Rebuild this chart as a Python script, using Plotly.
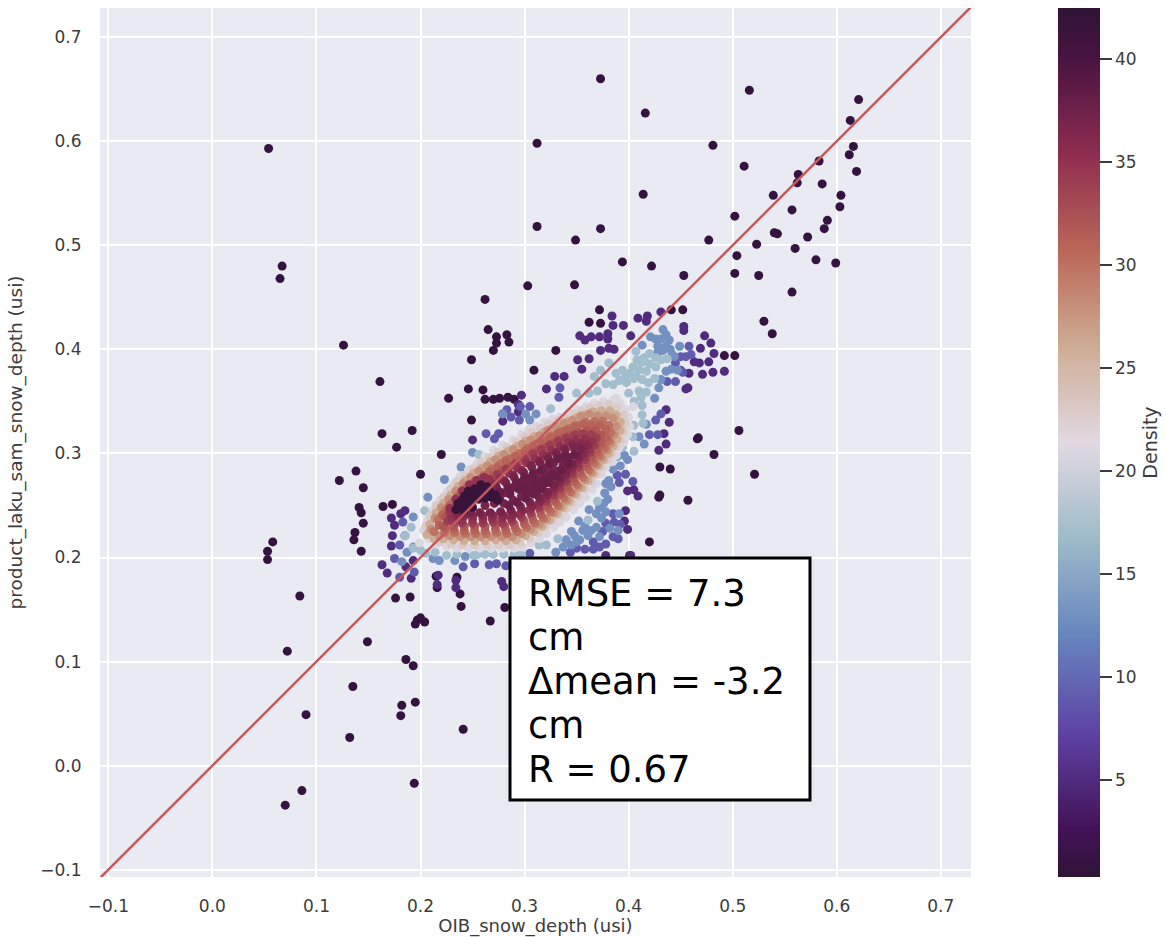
import plotly.graph_objects as go

# (OIB_snow_depth, product_laku_sam_snow_depth), grouped by density
d1 = [(.054,.593),(.067,.480),(.065,.468),(.126,.404),(.161,.369),(.163,.319),(.192,.322),(.177,.306),(.122,.274),(.138,.283),
(.145,.267),(.141,.248),(.143,.243),(.145,.233),(.137,.224),(.136,.217),(.143,.206),(.058,.215),(.053,.206),(.053,.198),
(.084,.163),(.072,.110),(.149,.119),(.135,.076),(.090,.049),(.132,.027),(.086,-.024),(.070,-.038),(.194,-.017),(.241,.035),
(.195,.061),(.182,.058),(.181,.048),(.186,.102),(.193,.096),(.197,.140),(.195,.136),(.200,.142),(.204,.138),(.238,.165),
(.239,.153),(.267,.139),(.281,.152),(.176,.161),(.190,.162),(.215,.182),(.235,.181),(.216,.171),(.373,.660),(.416,.627),
(.516,.649),(.481,.596),(.511,.576),(.312,.598),(.312,.518),(.414,.549),(.373,.516),(.349,.505),(.394,.484),(.422,.480),
(.453,.471),(.477,.505),(.502,.528),(.504,.490),(.502,.473),(.525,.471),(.303,.461),(.348,.462),(.262,.448),(.621,.640),
(.613,.620),(.616,.595),(.612,.587),(.619,.571),(.583,.581),(.586,.559),(.563,.568),(.562,.560),(.539,.548),(.557,.534),
(.604,.548),(.603,.537),(.591,.524),(.588,.516),(.572,.508),(.560,.497),(.580,.486),(.599,.483),(.540,.512),(.543,.511),
(.523,.501),(.557,.455),(.530,.427),(.538,.415),(.506,.322),(.521,.280),(.482,.299),(.467,.315),(.430,.287),(.457,.255),
(.430,.260),(.420,.215),(.401,.202),(.372,.438),(.362,.426),(.373,.425),(.441,.438),(.452,.438),(.492,.394),(.502,.394),
(.466,.314),(.440,.285),(.429,.258),(.227,.353),(.246,.362),(.249,.390),(.265,.419),(.273,.412),(.283,.414),(.285,.407),
(.273,.406),(.270,.399),(.330,.399),(.309,.380),(.249,.332),(.220,.299),(.200,.280),(.164,.249),(.173,.251),(.260,.361),
(.262,.352),(.270,.352),(.276,.353),(.284,.354),(.290,.352)]
d5 = [(.384,.432),(.395,.423),(.385,.423),(.353,.413),(.358,.409),(.364,.412),(.372,.412),(.380,.415),(.380,.410),(.373,.399),
(.381,.401),(.386,.400),(.351,.390),(.362,.391),(.355,.381),(.409,.430),(.418,.432),(.417,.427),(.431,.436),(.453,.422),
(.453,.418),(.473,.413),(.479,.406),(.482,.396),(.492,.379),(.481,.378),(.471,.376),(.477,.388),(.469,.401),(.468,.387),
(.463,.388),(.458,.377),(.457,.363),(.455,.362),(.402,.413),(.297,.356),(.294,.347),(.294,.340),(.279,.338),(.279,.331),
(.321,.362),(.329,.374),(.338,.374),(.250,.313),(.436,.342),(.439,.330),(.434,.319),(.436,.309),(.429,.303),(.409,.259),
(.405,.265),(.399,.264),(.397,.245),(.399,.227),(.396,.235),(.378,.202),(.402,.202),(.185,.245),(.181,.242),(.172,.238),
(.175,.231),(.173,.221),(.172,.211),(.163,.193),(.168,.185),(.191,.180),(.217,.183),(.216,.174),(.234,.178),(.234,.171),
(.278,.177),(.280,.172),(.193,.197),(.186,.191)]
d9 = [(.287,.335),(.295,.332),(.334,.363),(.333,.354),(.263,.319),(.275,.319),(.271,.314),(.431,.338),(.426,.332),(.428,.318),
(.420,.318),(.389,.279),(.397,.280),(.404,.273),(.391,.272),(.385,.242),(.386,.234),(.378,.233),(.385,.220),(.378,.213),
(.372,.210),(.366,.215),(.375,.225),(.180,.212),(.183,.234),(.185,.221),(.175,.199),(.180,.181),(.194,.186),(.241,.191),
(.252,.194),(.266,.193),(.273,.194),(.282,.192),(.305,.204),(.450,.380),(.445,.387),(.458,.403),(.445,.369),(.437,.369),
(.392,.232),(.390,.218),(.366,.208),(.358,.208),(.350,.209),(.344,.205),(.296,.345),(.283,.342),(.305,.345),(.455,.393),
(.450,.393),(.460,.395),(.452,.378)]
d13 = [(.433,.399),(.439,.409),(.433,.419),(.421,.412),(.413,.404),(.449,.403),(.442,.395),(.436,.403),(.428,.403),(.417,.328),
(.410,.316),(.415,.309),(.399,.294),(.396,.298),(.389,.297),(.381,.274),(.378,.271),(.377,.262),(.380,.256),(.391,.242),
(.378,.244),(.369,.242),(.361,.221),(.356,.226),(.353,.217),(.348,.221),(.369,.229),(.345,.212),(.337,.210),(.330,.205),
(.279,.338),(.301,.338),(.305,.332),(.311,.338),(.193,.239),(.187,.205),(.182,.196),(.193,.210),(.212,.199),(.218,.197),
(.233,.197),(.243,.201),(.207,.258),(.223,.275),(.250,.301),(.239,.287),(.431,.371),(.436,.379),(.429,.363),(.425,.353),
(.440,.400),(.444,.393),(.447,.380),(.441,.381),(.431,.410),(.426,.410),(.436,.414),(.428,.397),(.392,.288),(.385,.285),
(.383,.268),(.372,.248),(.362,.246),(.374,.238),(.358,.230),(.350,.215),(.340,.217),(.364,.226),(.382,.228),(.372,.220),
(.390,.226),(.376,.252),(.352,.235),(.345,.225)]
d17 = [(.407,.398),(.420,.396),(.412,.387),(.404,.383),(.394,.380),(.388,.377),(.397,.374),(.407,.374),(.417,.379),(.426,.383),
(.413,.371),(.405,.372),(.417,.359),(.413,.346),(.413,.337),(.385,.366),(.378,.367),(.370,.360),(.362,.358),(.350,.358),
(.367,.374),(.373,.380),(.381,.387),(.405,.327),(.404,.316),(.394,.306),(.405,.302),(.361,.236),(.332,.218),(.321,.212),
(.314,.212),(.225,.202),(.251,.202),(.191,.229),(.193,.209),(.204,.245),(.256,.299),(.325,.343),(.185,.221),(.370,.254),
(.401,.377),(.410,.380),(.415,.392),(.426,.392),(.431,.390),(.437,.391),(.420,.386),(.408,.390),(.398,.368),(.391,.370),
(.400,.358),(.405,.350),(.410,.360),(.419,.368),(.425,.372),(.412,.354),(.414,.329),(.255,.203),(.262,.203),(.270,.203),
(.280,.203),(.290,.203),(.297,.203),(.200,.207),(.205,.204),(.235,.203),(.214,.205)]
d21 = [(.203,.226),(.207,.236),(.212,.245),(.219,.255),(.226,.263),(.232,.271),(.238,.278),(.246,.284),(.254,.290),(.262,.297),
(.270,.303),(.279,.308),(.289,.313),(.297,.318),(.304,.323),(.311,.326),(.319,.330),(.327,.333),(.334,.335),(.342,.339),
(.351,.342),(.359,.345),(.367,.348),(.376,.350),(.385,.351),(.392,.348),(.397,.342),(.400,.335),(.401,.326),(.399,.318),
(.396,.311),(.391,.306),(.388,.298),(.384,.292),(.378,.287),(.374,.280),(.369,.271),(.365,.265),(.359,.258),(.353,.252),
(.347,.246),(.340,.239),(.334,.234),(.328,.229),(.321,.223),(.314,.218),(.306,.214),(.298,.210),(.290,.209),(.279,.209),
(.268,.209),(.257,.209),(.246,.209),(.235,.209),(.225,.211),(.215,.213),(.208,.218),(.388,.353),(.404,.345),(.199,.214)]
d23 = [(.205,.230),(.209,.240),(.215,.250),(.222,.258),(.229,.266),(.235,.273),(.242,.279),(.250,.285),(.258,.291),(.266,.296),
(.274,.301),(.283,.306),(.292,.311),(.300,.316),(.307,.320),(.315,.324),(.323,.328),(.331,.331),(.339,.334),(.347,.338),
(.355,.341),(.363,.344),(.372,.346),(.381,.347),(.389,.344),(.395,.337),(.397,.329),(.395,.321),(.392,.313),(.388,.307),
(.384,.300),(.380,.294),(.374,.287),(.369,.280),(.364,.273),(.358,.266),(.352,.259),(.346,.253),(.340,.247),(.334,.241),
(.327,.236),(.320,.230),(.313,.224),(.305,.219),(.296,.214),(.286,.212),(.275,.212),(.264,.212),(.252,.212),(.240,.212),
(.229,.213),(.219,.215),(.210,.221)]
d26 = [(.206,.222),(.209,.232),(.215,.243),(.222,.252),(.229,.260),(.236,.268),(.243,.274),(.251,.281),(.259,.286),(.267,.292),
(.275,.297),(.284,.302),(.293,.307),(.301,.312),(.309,.316),(.318,.320),(.326,.324),(.334,.328),(.342,.331),(.350,.334),
(.358,.337),(.366,.340),(.374,.341),(.382,.341),(.388,.337),(.392,.330),(.392,.322),(.389,.314),(.385,.307),(.381,.300),
(.376,.294),(.371,.288),(.366,.281),(.361,.274),(.355,.267),(.349,.261),(.343,.254),(.337,.248),(.331,.242),(.324,.236),
(.317,.230),(.309,.225),(.301,.221),(.292,.217),(.282,.216),(.272,.217),(.262,.216),(.252,.216),(.242,.216),(.232,.217),
(.222,.218),(.213,.218)]
d28 = [(.210,.227),(.214,.238),(.220,.248),(.227,.256),(.234,.264),(.241,.271),(.248,.277),(.256,.283),(.264,.288),(.272,.294),
(.280,.299),(.289,.304),(.298,.309),(.306,.313),(.314,.317),(.322,.322),(.330,.326),(.338,.329),(.346,.332),(.354,.336),
(.362,.338),(.370,.336),(.378,.336),(.385,.334),(.388,.326),(.386,.318),(.383,.310),(.379,.303),(.374,.296),(.369,.289),
(.364,.282),(.358,.275),(.352,.268),(.346,.262),(.340,.255),(.334,.249),(.328,.243),(.321,.237),(.314,.232),(.306,.227),
(.297,.223),(.288,.220),(.278,.220),(.268,.220),(.258,.220),(.248,.220),(.238,.220),(.228,.221),(.218,.221)]
d30 = [(.213,.225),(.217,.236),(.224,.245),(.231,.253),(.238,.261),(.245,.268),(.253,.274),(.261,.279),(.269,.285),(.277,.290),
(.286,.295),(.295,.300),(.303,.305),(.311,.309),(.319,.313),(.327,.317),(.335,.321),(.343,.324),(.351,.327),(.359,.330),
(.367,.331),(.375,.331),(.381,.327),(.383,.320),(.381,.312),(.377,.305),(.372,.298),(.367,.291),(.362,.284),(.356,.277),
(.350,.270),(.344,.263),(.338,.257),(.332,.250),(.325,.244),(.318,.238),(.310,.233),(.302,.229),(.293,.225),(.283,.223),
(.273,.224),(.263,.223),(.253,.223),(.243,.223),(.233,.224),(.223,.224)]
d31 = [(.218,.231),(.221,.241),(.228,.250),(.235,.258),(.242,.265),(.250,.271),(.258,.276),(.266,.282),(.274,.287),(.282,.293),
(.291,.297),(.300,.302),(.308,.307),(.316,.311),(.324,.315),(.332,.319),(.340,.322),(.348,.326),(.356,.328),(.364,.327),
(.372,.327),(.378,.323),(.378,.315),(.375,.308),(.370,.301),(.365,.294),(.360,.287),(.354,.280),(.348,.273),(.342,.266),
(.336,.260),(.330,.253),(.323,.247),(.316,.241),(.308,.236),(.300,.232),(.291,.228),(.282,.226),(.272,.227),(.262,.226),
(.252,.226),(.242,.226),(.232,.227),(.224,.228)]
d32 = [(.222,.230),(.224,.239),(.231,.247),(.238,.255),(.246,.262),(.254,.267),(.262,.272),(.270,.278),(.278,.283),(.287,.288),
(.296,.293),(.304,.298),(.312,.302),(.320,.306),(.328,.310),(.336,.314),(.344,.317),(.352,.320),(.360,.322),(.368,.322),
(.373,.318),(.373,.311),(.369,.304),(.364,.297),(.359,.290),(.353,.283),(.347,.276),(.341,.269),(.335,.262),(.329,.256),
(.322,.250),(.315,.245),(.307,.240),(.299,.236),(.290,.232),(.281,.230),(.272,.231),(.262,.230),(.252,.230),(.242,.230),
(.232,.230)]
d34 = [(.226,.235),(.228,.243),(.235,.251),(.242,.259),(.250,.265),(.258,.270),(.266,.275),(.274,.280),(.282,.285),(.291,.290),
(.300,.295),(.308,.300),(.316,.304),(.324,.308),(.332,.312),(.340,.315),(.348,.318),(.356,.319),(.364,.318),(.369,.315),
(.367,.308),(.363,.301),(.358,.294),(.352,.287),(.346,.280),(.340,.273),(.334,.266),(.328,.260),(.321,.254),(.314,.248),
(.306,.243),(.297,.239),(.288,.235),(.279,.233),(.270,.234),(.260,.233),(.250,.233),(.240,.233),(.232,.234)]
d35 = [(.230,.238),(.236,.247),(.243,.256),(.251,.263),(.259,.268),(.268,.272),(.276,.276),(.285,.281),(.293,.286),(.302,.291),
(.310,.295),(.318,.299),(.326,.303),(.334,.307),(.342,.311),(.350,.313),(.358,.314),(.364,.311),(.362,.304),(.357,.297),
(.351,.290),(.345,.283),(.339,.276),(.333,.269),(.327,.263),(.320,.257),(.313,.251),(.305,.246),(.296,.242),(.287,.238),
(.278,.237),(.269,.237),(.260,.237),(.250,.237),(.240,.236),(.228,.247),(.234,.256),(.240,.264),(.247,.270),(.254,.274),
(.261,.277),(.266,.275)]
d36 = [(.235,.240),(.240,.250),(.247,.257),(.255,.262),(.264,.266),(.272,.270),(.280,.274),(.289,.279),(.297,.284),(.306,.289),
(.314,.293),(.322,.297),(.330,.301),(.338,.305),(.346,.309),(.354,.309),(.360,.308),(.357,.301),(.352,.294),(.346,.287),
(.340,.280),(.334,.273),(.328,.266),(.322,.260),(.315,.254),(.307,.249),(.298,.245),(.289,.241),(.280,.240),(.270,.240),
(.260,.240),(.250,.240),(.242,.240)]
d37 = [(.240,.243),(.248,.250),(.256,.256),(.264,.262),(.273,.267),(.282,.272),(.290,.277),(.299,.282),(.307,.287),(.315,.291),
(.323,.295),(.331,.299),(.339,.303),(.347,.306),(.354,.305),(.352,.297),(.346,.290),(.340,.283),(.334,.276),(.328,.270),
(.321,.263),(.314,.258),(.305,.253),(.296,.249),(.287,.245),(.277,.244),(.267,.243),(.257,.243),(.248,.243),(.262,.250),
(.271,.252),(.280,.252),(.289,.255),(.297,.259),(.305,.262),(.312,.266),(.319,.271),(.325,.277),(.331,.283),(.337,.289),
(.343,.296),(.336,.296),(.328,.291),(.320,.286),(.312,.281),(.304,.276),(.296,.272),(.288,.267),(.280,.262),(.271,.259),
(.296,.265),(.304,.269),(.312,.274),(.320,.279),(.328,.284)]
d38 = [(.285,.250),(.293,.253),(.301,.257),(.309,.261),(.316,.266),(.323,.272),(.330,.278),(.335,.284),(.342,.290),(.348,.299),
(.340,.297),(.332,.295),(.324,.290),(.316,.284),(.308,.280),(.300,.277),(.292,.272),(.284,.267),(.276,.263),(.268,.262),
(.276,.256),(.286,.261),(.294,.266),(.302,.263),(.310,.268),(.318,.275),(.326,.280),(.300,.270),(.308,.274),(.316,.270)]
d41 = [(.234,.246),(.240,.253),(.246,.260),(.252,.266),(.258,.270),(.262,.263),(.256,.257),(.268,.258),(.250,.248),(.242,.245),
(.274,.255),(.262,.257),(.238,.249),(.243,.254),(.248,.258),(.252,.261),(.244,.250),(.249,.253),(.254,.257),(.258,.261),
(.240,.255),(.246,.264),(.236,.252),(.242,.259),(.250,.263),(.258,.265),(.264,.268),(.266,.264),(.272,.260)]
bands = [d1, d5, d9, d13, d17, d21, d23, d26, d28, d30, d31, d32, d34, d35, d36, d37, d38, d41]
band_density = [1, 5, 9, 13, 17, 21, 23, 26, 28, 30, 31, 32, 34, 35, 36, 37, 38, 41.5]
line_x = [-0.11, 0.73]
line_y = [-0.11, 0.73]
ticks = [-0.1, 0.0, 0.1, 0.2, 0.3, 0.4, 0.5, 0.6, 0.7]
stats_lines = ["RMSE = 7.3", "cm", "\u0394mean = -3.2", "cm", "R = 0.67"]

twilight_shifted = [[0, "#2f1436"], [.0556, "#421257"], [.1667, "#5e43a5"], [.2778, "#6785be"], [.3889, "#9ebbc9"],
                    [.5, "#e2d9e2"], [.6111, "#ceac94"], [.7222, "#ba6657"], [.8333, "#8e2c50"], [.9444, "#471340"], [1, "#2f1436"]]

xs, ys, cs = [], [], []
for band, dens in zip(bands, band_density):
    for a, b in band:
        xs.append(a); ys.append(b); cs.append(dens)

FONT = "DejaVu Sans"
INK = "#3c3c3c"
fig = go.Figure()
fig.add_trace(go.Scatter(x=xs, y=ys, mode="markers", hoverinfo="skip", showlegend=False,
    marker=dict(size=9, color=cs, colorscale=twilight_shifted, cmin=0.29, cmax=42.5, line=dict(width=0),
        colorbar=dict(x=(1058-100)/871, xanchor="left", y=0, yanchor="bottom", len=1, lenmode="fraction",
            thickness=42, ypad=0, xpad=0, outlinewidth=0, tickmode="array", tickvals=[5,10,15,20,25,30,35,40],
            ticks="outside", ticklen=12, tickwidth=1.5, tickcolor=INK, tickfont=dict(family=FONT, size=17, color=INK),
            title=dict(text="Density", side="right", font=dict(family=FONT, size=19, color=INK))))))
fig.add_trace(go.Scatter(x=line_x, y=line_y, mode="lines", line=dict(color="#c05a60", width=2.5),
                         hoverinfo="skip", showlegend=False))
axis = dict(tickmode="array", tickvals=ticks, ticktext=[f"{t:.1f}".replace("-", "\u2212") for t in ticks],
            showgrid=True, gridcolor="white", gridwidth=1.5, zeroline=False, showline=False, automargin=False,
            ticks="outside", ticklen=14, tickcolor="rgba(0,0,0,0)",
            tickfont=dict(family=FONT, size=17, color=INK))
fig.update_layout(width=1166, height=937, margin=dict(l=100, r=195, t=8, b=60, autoexpand=False), autosize=False,
    plot_bgcolor="#eaeaf2", paper_bgcolor="white", font=dict(family=FONT),
    xaxis=dict(axis, range=[-0.108, 0.729], title=dict(text="OIB_snow_depth (usi)", standoff=8, font=dict(family=FONT, size=18, color=INK))),
    yaxis=dict(axis, range=[-0.107, 0.728], title=dict(text="product_laku_sam_snow_depth (usi)", standoff=12, font=dict(family=FONT, size=18.5, color=INK))),
    shapes=[dict(type="rect", xref="paper", yref="paper", x0=(510-100)/871, x1=(810-100)/871,
                 y0=(877-800)/869, y1=(877-558)/869, fillcolor="white", line=dict(color="black", width=3), layer="above")])
for i, text in enumerate(stats_lines):
    fig.add_annotation(xref="paper", yref="paper", x=(526-100)/871, y=(877-(593+44*i))/869, text=text, showarrow=False,
                       xanchor="left", yanchor="middle", font=dict(family=FONT, size=37, color="black"))
fig.write_html("out.html", config={"displayModeBar": False},
               post_script="document.body.style.margin='0';document.body.style.overflow='hidden';")
